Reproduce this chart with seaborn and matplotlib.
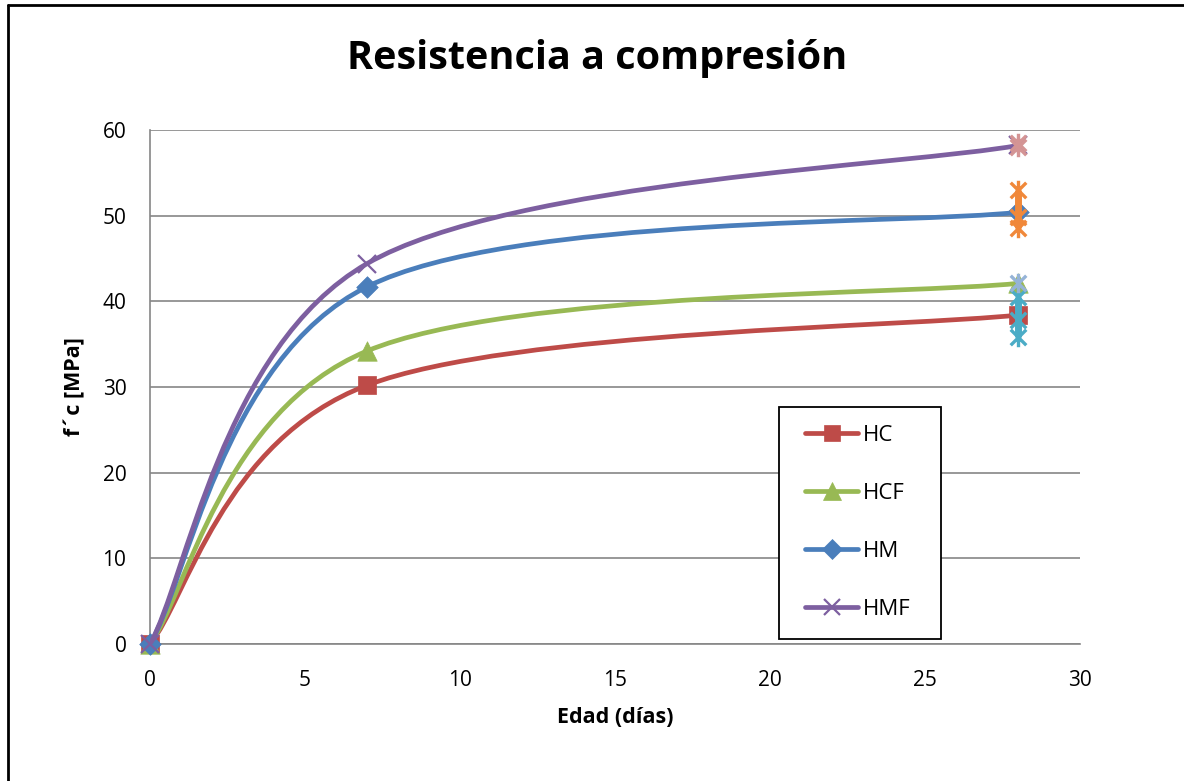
import numpy as np
import seaborn as sns
import matplotlib
matplotlib.use("Agg")
import matplotlib.pyplot as plt
from matplotlib.path import Path
from matplotlib.patches import PathPatch, Rectangle
from matplotlib.lines import Line2D

# %% Data
edad = [0, 7, 28]
series_names = ["HC", "HCF", "HM", "HMF"]
hc = [0, 30.2, 38.4]
hcf = [0, 34.2, 42.1]
hm = [0, 41.7, 50.4]
hmf = [0, 44.4, 58.2]

# individual specimens at 28 days
probetas_x = 28
probetas_teal = [40.5, 37.8, 35.8]
probetas_orange = [53.0, 49.8, 48.6]
probetas_lav = [42.1]
probetas_pink = [58.5, 58.0]

# %% Style
sns.set_style("white")
plt.rcParams['font.family'] = ['Open Sans', 'DejaVu Sans']
plt.rcParams['text.color'] = 'black'
plt.rcParams['axes.labelcolor'] = 'black'

colors = {"HC": "#BE4B48", "HCF": "#98B954", "HM": "#4A7EBB", "HMF": "#7D5FA0"}
markers = {"HC": "s", "HCF": "^", "HM": "D", "HMF": "x"}
msizes = {"HC": 13, "HCF": 14, "HM": 11, "HMF": 13}
grid_col = "#868686"

# asterisk marker like Excel (x + vertical bar)
star = Path([(-1, -1), (1, 1), (-1, 1), (1, -1), (0, -1.25), (0, 1.25)],
            [Path.MOVETO, Path.LINETO, Path.MOVETO, Path.LINETO, Path.MOVETO, Path.LINETO])


def smooth_path(xs, ys):
    # Excel-like smoothed line: cubic bezier through the points
    pts = np.column_stack([xs, ys]).astype(float)
    n = len(pts)
    verts = [pts[0]]
    codes = [Path.MOVETO]
    for i in range(n - 1):
        p0 = pts[i - 1] if i > 0 else pts[i]
        p1 = pts[i]
        p2 = pts[i + 1]
        p3 = pts[i + 2] if i + 2 < n else pts[i + 1]
        c1 = p1 + (p2 - p0) / 6
        c2 = p2 - (p3 - p1) / 6
        verts += [c1, c2, p2]
        codes += [Path.CURVE4] * 3
    return Path(verts, codes)


fig = plt.figure(figsize=(11.84, 7.81), dpi=100, facecolor='white')
ax = fig.add_axes([150 / 1184, 1 - 644 / 781, 930 / 1184, 514 / 781])

data = {"HC": hc, "HCF": hcf, "HM": hm, "HMF": hmf}
handles = []
for k, name in enumerate(series_names):
    vals = data[name]
    patch = PathPatch(smooth_path(edad, vals), fill=False, edgecolor=colors[name],
                      lw=3.4, capstyle='round', joinstyle='round', zorder=3 + k)
    ax.add_patch(patch)
    if markers[name] == "x":
        ax.plot(edad, vals, ls='none', marker='x', ms=msizes[name], mew=1.6,
                color=colors[name], zorder=3.5 + k, clip_on=False)
    else:
        sns.scatterplot(x=edad, y=vals, ax=ax, marker=markers[name], s=msizes[name] ** 2,
                        color=colors[name], edgecolor=colors[name], linewidth=0.5,
                        zorder=3.5 + k, clip_on=False, legend=False)
    handles.append(Line2D([0], [0], color=colors[name], lw=3.4, solid_capstyle='round',
                          marker=markers[name], ms=msizes[name] * 0.9,
                          mew=1.6 if markers[name] == "x" else 0.5,
                          mfc=colors[name], mec=colors[name]))

# specimen values at 28 days
extra = [(probetas_teal, "#4BACC6"), (probetas_orange, "#F0883A"),
         (probetas_lav, "#95B3D7"), (probetas_pink, "#D49494")]
for j, (vals, c) in enumerate(extra):
    if len(vals) > 1:
        ax.vlines(probetas_x, min(vals), max(vals), color=c, lw=5, zorder=8 + j)
    ax.plot([probetas_x] * len(vals), vals, ls='none', marker=star, ms=14, mew=2.4,
            color=c, mfc='none', zorder=8.5 + j)

# %% Axes
ax.set_xlim(0, 30)
ax.set_ylim(0, 60)
ax.set_xticks(np.arange(0, 31, 5))
ax.set_yticks(np.arange(0, 61, 10))
ax.yaxis.grid(True, color=grid_col, lw=1.2)
ax.xaxis.grid(False)
ax.tick_params(axis='both', length=0, labelsize=15, colors='black')
ax.tick_params(axis='x', pad=19)
ax.tick_params(axis='y', pad=17)
for s in ['top', 'right']:
    ax.spines[s].set_visible(False)
ax.spines['left'].set_color(grid_col)
ax.spines['bottom'].set_color(grid_col)
ax.spines['left'].set_linewidth(1.2)
ax.spines['bottom'].set_linewidth(1.2)

ax.set_xlabel("Edad (días)", fontsize=15.5, fontweight='bold')
ax.set_ylabel("f´c [MPa]", fontsize=15.5, fontweight='bold')
ax.xaxis.set_label_coords(0.5, -0.122)
ax.yaxis.set_label_coords(-0.069, 0.5)

fig.text(597 / 1184, 1 - 58 / 781, "Resistencia a compresión", fontsize=28.5,
         fontweight='bold', ha='center', va='center', color='black')

# legend: entries placed inside a hand-drawn box like the Excel one
legbox = Rectangle((779 / 1184, 1 - 639 / 781), 162 / 1184, 232 / 781,
                   transform=fig.transFigure, facecolor='white',
                   edgecolor='black', lw=1.3, zorder=20, clip_on=False)
ax.add_patch(legbox)
leg = ax.legend(handles, series_names, loc='upper left',
                bbox_to_anchor=(805 / 1184, 1 - 425 / 781), bbox_transform=fig.transFigure,
                frameon=False, fontsize=16, handlelength=2.4,
                handletextpad=0.2, labelspacing=1.66, borderpad=0, borderaxespad=0)
leg.set_zorder(21)

# chart area border
fig.add_artist(Line2D([8 / 1184, 1], [1 - 5 / 781] * 2, color='black', lw=2,
                      transform=fig.transFigure))
fig.add_artist(Line2D([8 / 1184] * 2, [0, 1 - 5 / 781], color='black', lw=2,
                      transform=fig.transFigure))

plt.savefig("out.png", dpi=100, facecolor='white')
